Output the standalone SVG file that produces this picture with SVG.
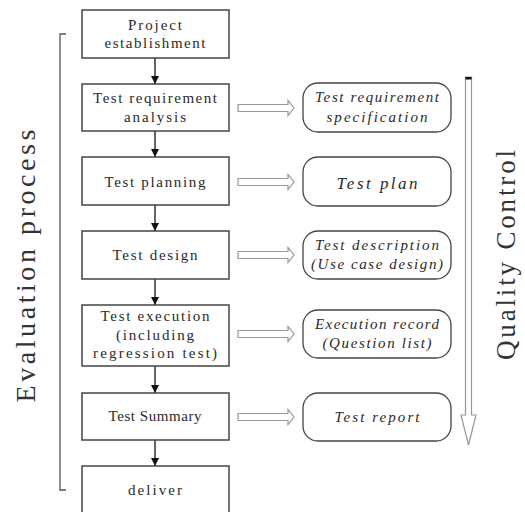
<svg xmlns="http://www.w3.org/2000/svg" width="525" height="512" viewBox="0 0 525 512">
<style>
.box{fill:#fff;stroke:#444;stroke-width:1.5}
.rbox{fill:#fff;stroke:#444;stroke-width:1.3}
.t{font-family:"Liberation Serif",serif;font-size:15px;fill:#2a2a2a;text-anchor:middle}
.it{font-family:"Liberation Serif",serif;font-size:15px;fill:#2a2a2a;text-anchor:middle;font-style:italic}
.big{font-family:"Liberation Serif",serif;font-size:28px;fill:#333;text-anchor:middle}
.flow{stroke:#111;stroke-width:1.3;fill:none}
.hollow{fill:#fff;stroke:#999;stroke-width:1.2}
</style>
<defs>
<marker id="ah" viewBox="0 0 10 10" refX="10" refY="5" markerWidth="8" markerHeight="9" markerUnits="userSpaceOnUse" orient="auto">
<path d="M0,0 L10,5 L0,10 Z" fill="#111"/>
</marker>
</defs>

<g id="bracket" fill="none" stroke="#555" stroke-width="1.3">
<path d="M66,34 H60 V490 H66"/>
</g>
<text class="big" transform="translate(35,266) rotate(-90)" textLength="273" lengthAdjust="spacing">Evaluation process</text>
<text class="big" transform="translate(515,255) rotate(-90)" textLength="210" lengthAdjust="spacing" style="font-size:27px">Quality Control</text>

<g id="connectors">
<line class="flow" x1="155" y1="58" x2="155" y2="84" marker-end="url(#ah)"/>
<line class="flow" x1="155" y1="131" x2="155" y2="157" marker-end="url(#ah)"/>
<line class="flow" x1="155" y1="205" x2="155" y2="231" marker-end="url(#ah)"/>
<line class="flow" x1="155" y1="279" x2="155" y2="305" marker-end="url(#ah)"/>
<line class="flow" x1="155" y1="366" x2="155" y2="393" marker-end="url(#ah)"/>
<line class="flow" x1="155" y1="440" x2="155" y2="466" marker-end="url(#ah)"/>
<path class="hollow" d="M238,104.5 H288 V100.5 L294,108 L288,115.5 V111.5 H238 Z"/>
<path class="hollow" d="M238,178.5 H288 V174.5 L294,182 L288,189.5 V185.5 H238 Z"/>
<path class="hollow" d="M238,251.5 H288 V247.5 L294,255 L288,262.5 V258.5 H238 Z"/>
<path class="hollow" d="M238,330.5 H288 V326.5 L294,334 L288,341.5 V337.5 H238 Z"/>
<path class="hollow" d="M238,413.5 H288 V409.5 L294,417 L288,424.5 V420.5 H238 Z"/>
<path class="hollow" d="M465.5,77 H471.5 V415 H476 L468.5,445 L461,415 H465.5 Z"/>
<rect x="465.5" y="77" width="6" height="2.5" fill="#111"/>
</g>

<g id="n1"><rect class="box" x="82" y="10" width="147" height="48"/>
<text class="t" x="155" y="30" textLength="54" lengthAdjust="spacing">Project</text><text class="t" x="155" y="48" textLength="101" lengthAdjust="spacing">establishment</text></g>
<g id="n2"><rect class="box" x="82" y="84" width="147" height="47"/>
<text class="t" x="155" y="103" textLength="124" lengthAdjust="spacing">Test requirement</text><text class="t" x="155" y="122" textLength="62" lengthAdjust="spacing">analysis</text></g>
<g id="n3"><rect class="box" x="82" y="157" width="147" height="48"/>
<text class="t" x="155" y="187" textLength="101" lengthAdjust="spacing">Test planning</text></g>
<g id="n4"><rect class="box" x="82" y="231" width="147" height="48"/>
<text class="t" x="155" y="260" textLength="85" lengthAdjust="spacing">Test design</text></g>
<g id="n5"><rect class="box" x="82" y="305" width="147" height="61"/>
<text class="t" x="155" y="321" textLength="109" lengthAdjust="spacing">Test execution</text><text class="t" x="155" y="340" textLength="78" lengthAdjust="spacing">(including</text><text class="t" x="155" y="358" textLength="124" lengthAdjust="spacing">regression test)</text></g>
<g id="n6"><rect class="box" x="82" y="393" width="147" height="47"/>
<text class="t" x="155" y="421" textLength="93" lengthAdjust="spacing">Test Summary</text></g>
<g id="n7"><rect class="box" x="82" y="466" width="147" height="56"/>
<text class="t" x="155" y="495" textLength="54" lengthAdjust="spacing">deliver</text></g>

<g id="r1"><rect class="rbox" x="303" y="83" width="148" height="49" rx="15"/>
<text class="it" x="377" y="102" textLength="124" lengthAdjust="spacing">Test requirement</text><text class="it" x="377" y="122" textLength="101" lengthAdjust="spacing">specification</text></g>
<g id="r2"><rect class="rbox" x="303" y="157" width="148" height="49" rx="15"/>
<text class="it" x="377" y="189" textLength="81" lengthAdjust="spacing" style="font-size:17px">Test plan</text></g>
<g id="r3"><rect class="rbox" x="303" y="231" width="148" height="48" rx="15"/>
<text class="it" x="377" y="250" textLength="124" lengthAdjust="spacing">Test description</text><text class="it" x="377" y="269" textLength="132" lengthAdjust="spacing">(Use case design)</text></g>
<g id="r4"><rect class="rbox" x="303" y="310" width="148" height="48" rx="15"/>
<text class="it" x="377" y="329" textLength="124" lengthAdjust="spacing">Execution record</text><text class="it" x="377" y="348" textLength="109" lengthAdjust="spacing">(Question list)</text></g>
<g id="r5"><rect class="rbox" x="303" y="393" width="148" height="48" rx="15"/>
<text class="it" x="377" y="422" textLength="85" lengthAdjust="spacing">Test report</text></g>
</svg>
